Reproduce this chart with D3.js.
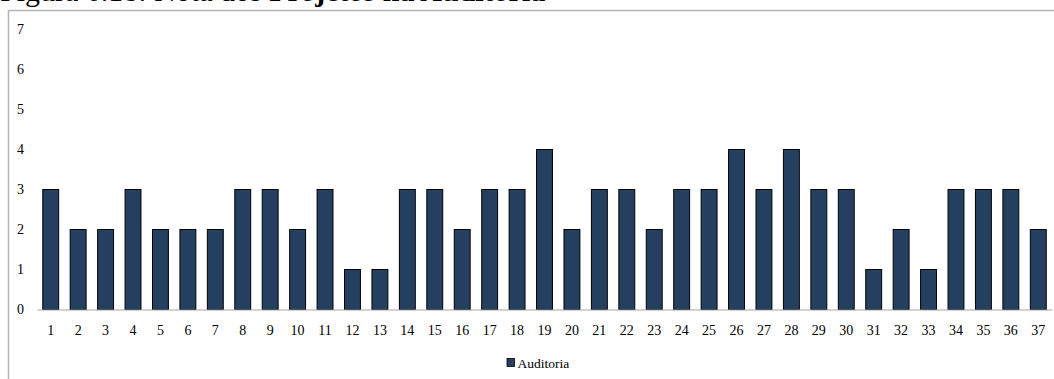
<!DOCTYPE html>
<html>
<head>
<meta charset="utf-8">
<script src="https://cdn.jsdelivr.net/npm/d3@7"></script>
<style>
  html, body { margin: 0; padding: 0; background: #fff; overflow: hidden; }
  svg { display: block; }
  text { font-family: "Liberation Serif", "Times New Roman", serif; fill: #000; }
</style>
</head>
<body>
<svg id="chart" width="1054" height="379"></svg>
<script>
// Project numbers and their audit scores
const projects = d3.range(1, 38).map(String);
const scores = [3, 2, 2, 3, 2, 2, 2, 3, 3, 2, 3, 1, 1, 3, 3, 2, 3, 3, 4, 2,
                3, 3, 2, 3, 3, 4, 3, 4, 3, 3, 1, 2, 1, 3, 3, 3, 2];
const yTicks = [0, 1, 2, 3, 4, 5, 6, 7];
const seriesName = "Auditoria";
const titlePlain = "Figura 6.18: Nota dos ";
const titleBold = "Projetos na Auditoria";

const data = projects.map((p, i) => ({ project: p, score: scores[i] }));

const svg = d3.select("#chart");
const W = 1054, H = 379;

// Figure caption (runs off the top edge)
const title = svg.append("text")
  .attr("x", 0)
  .attr("y", 1)
  .style("font-size", "30px");
title.append("tspan").text(titlePlain);
title.append("tspan").attr("font-weight", "bold").text(titleBold);

// Chart area frame (top and left edges)
svg.append("path")
  .attr("d", `M8.5,${H} V10.5 H${W}`)
  .attr("fill", "none")
  .attr("stroke", "#b4b4b4")
  .attr("stroke-width", 1.5);

const x = d3.scaleBand()
  .domain(projects)
  .range([37, 1052])
  .paddingInner(0.42)
  .paddingOuter(0.21);

const y = d3.scaleLinear()
  .domain([0, 7])
  .range([309.5, 29.5]);

// Bars
svg.append("g")
  .selectAll("rect")
  .data(data)
  .join("rect")
  .attr("x", d => x(d.project))
  .attr("y", d => y(d.score))
  .attr("width", x.bandwidth())
  .attr("height", d => y(0) - y(d.score))
  .attr("fill", "#253f60")
  .attr("stroke", "#000")
  .attr("stroke-width", 1);

// Category axis
const xAxis = svg.append("g")
  .attr("transform", `translate(0,${y(0)})`)
  .call(d3.axisBottom(x).tickSize(0).tickPadding(0));
xAxis.attr("font-family", null);
xAxis.select(".domain").attr("stroke", "#a6a6a6").attr("stroke-width", 1.2);
xAxis.selectAll("text")
  .attr("y", 25.5)
  .attr("dy", null)
  .style("font-size", "14px")
  .style("font-family", "'Liberation Serif', serif");

// Value axis (labels only)
const yAxis = svg.append("g")
  .attr("transform", "translate(24,0)")
  .call(d3.axisLeft(y).tickValues(yTicks).tickFormat(d3.format("d")).tickSize(0).tickPadding(0));
yAxis.attr("font-family", null);
yAxis.select(".domain").remove();
yAxis.selectAll("text")
  .attr("dy", "0.32em")
  .style("font-size", "14px")
  .style("font-family", "'Liberation Serif', serif");

// Legend
const legend = svg.append("g").attr("transform", "translate(507,358.5)");
legend.append("rect")
  .attr("width", 7.5)
  .attr("height", 8)
  .attr("fill", "#253f60")
  .attr("stroke", "#000")
  .attr("stroke-width", 0.8);
legend.append("text")
  .attr("x", 10.5)
  .attr("y", 9.5)
  .style("font-size", "13.5px")
  .text(seriesName);
</script>
</body>
</html>
